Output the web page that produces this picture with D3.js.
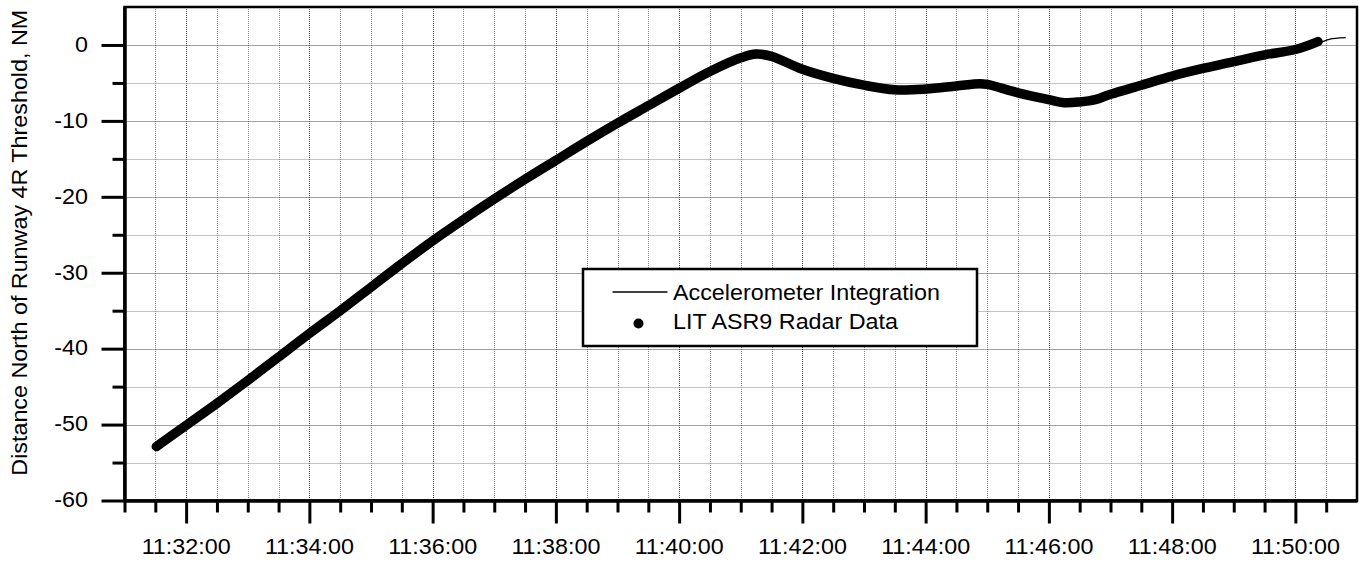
<!DOCTYPE html>
<html>
<head>
<meta charset="utf-8">
<script src="https://cdn.jsdelivr.net/npm/d3@7"></script>
<style>
  html, body { margin: 0; padding: 0; background: #fff; }
  svg { display: block; font-family: "Liberation Sans", Arial, sans-serif; }
</style>
</head>
<body>
<svg id="chart" width="1360" height="565"></svg>
<script>
// Time window and distance range of the plot
const timeStart = "11:31:00";
const timeEnd = "11:51:00";
const distMin = -60;
const distMax = 5;

// LIT ASR9 radar returns: time of day and distance north of the 4R threshold (NM)
const radarTimes = [
  "11:31:31", "11:32:00", "11:32:30", "11:33:00", "11:33:30", "11:34:00", "11:34:30",
  "11:35:00", "11:35:30", "11:36:00", "11:36:30", "11:37:00", "11:37:30", "11:38:00",
  "11:38:30", "11:39:00", "11:39:30", "11:40:00", "11:40:30", "11:41:00", "11:41:15",
  "11:41:30", "11:42:00", "11:42:30", "11:43:00", "11:43:30", "11:44:00", "11:44:30",
  "11:44:53", "11:45:00", "11:45:30", "11:46:00", "11:46:15", "11:46:30", "11:46:45",
  "11:47:00", "11:47:30", "11:48:00", "11:48:30", "11:49:00", "11:49:30", "11:50:00",
  "11:50:22"
];
const radarValues = [
  -52.9, -50.1, -47.2, -44.2, -41.1, -38.0, -35.0,
  -31.9, -28.8, -25.8, -23.0, -20.3, -17.7, -15.2,
  -12.7, -10.3, -8.0, -5.7, -3.5, -1.7, -1.2,
  -1.5, -3.2, -4.4, -5.3, -5.9, -5.8, -5.4,
  -5.1, -5.2, -6.3, -7.2, -7.6, -7.5, -7.2,
  -6.5, -5.3, -4.1, -3.1, -2.2, -1.3, -0.6,
  0.45
];

// Position from integrating the flight-recorder accelerations
const accelTimes = [
  "11:31:31", "11:32:30", "11:33:30", "11:34:30", "11:35:30", "11:36:30", "11:37:30",
  "11:38:30", "11:39:30", "11:40:30", "11:41:15", "11:42:00", "11:43:00", "11:44:00",
  "11:44:53", "11:45:30", "11:46:15", "11:47:00", "11:48:00", "11:49:00", "11:50:00",
  "11:50:25", "11:50:33", "11:50:49"
];
const accelValues = [
  -52.9, -47.2, -41.1, -35.0, -28.8, -23.0, -17.7,
  -12.7, -8.0, -3.5, -1.2, -3.2, -5.3, -5.8,
  -5.1, -6.3, -7.6, -6.5, -4.1, -2.2, -0.6,
  0.35, 0.75, 0.96
];

// Axis labelling
const xMajorTicks = [
  "11:32:00", "11:34:00", "11:36:00", "11:38:00", "11:40:00",
  "11:42:00", "11:44:00", "11:46:00", "11:48:00", "11:50:00"
];
const yMajorTicks = [0, -10, -20, -30, -40, -50, -60];
const yMinorTicks = [-5, -15, -25, -35, -45, -55];
const yTitle = "Distance North of Runway 4R Threshold, NM";
const legendLabels = ["Accelerometer Integration", "LIT ASR9 Radar Data"];

// ---------------------------------------------------------------------------
const parseT = d3.utcParse("%H:%M:%S");
const fmtT = d3.utcFormat("%H:%M:%S");
const FONT = 22;
const STRETCH = 1.06;   // slightly wide lettering

const frame = { left: 124.5, right: 1357, top: 7, bottom: 500.5 };

const x = d3.scaleUtc()
  .domain([parseT(timeStart), parseT(timeEnd)])
  .range([frame.left, frame.right]);
const y = d3.scaleLinear()
  .domain([distMin, distMax])
  .range([frame.bottom, frame.top]);

const svg = d3.select("#chart");

const majorDates = xMajorTicks.map(parseT);
const halfMinutes = d3.utcSecond.every(30).range(parseT(timeStart), parseT(timeEnd));
const isMajor = d => majorDates.some(m => +m === +d);
const minorDates = halfMinutes.filter(d => !isMajor(d));

// --- grid -------------------------------------------------------------------
const grid = svg.append("g").attr("class", "grid");
grid.selectAll("line.vgrid")
  .data(halfMinutes.filter(d => +d !== +x.domain()[0]))
  .join("line")
  .attr("x1", d => Math.round(x(d)) + 0.5).attr("x2", d => Math.round(x(d)) + 0.5)
  .attr("y1", frame.top).attr("y2", frame.bottom)
  .attr("stroke", d => isMajor(d) ? "#444" : "#888")
  .attr("stroke-width", 1)
  .attr("stroke-dasharray", "1,1");

grid.selectAll("line.hgrid")
  .data(yMajorTicks.concat(yMinorTicks).filter(v => v > distMin))
  .join("line")
  .attr("x1", frame.left).attr("x2", frame.right)
  .attr("y1", d => Math.round(y(d)) + 0.5).attr("y2", d => Math.round(y(d)) + 0.5)
  .attr("stroke", d => d % 10 === 0 ? "#444" : "#888")
  .attr("stroke-width", 1)
  .attr("stroke-dasharray", "1,1");

// --- data -------------------------------------------------------------------
const radar = radarTimes.map((t, i) => ({ t: parseT(t), v: radarValues[i] }));
const accel = accelTimes.map((t, i) => ({ t: parseT(t), v: accelValues[i] }));

const line = d3.line()
  .x(d => x(d.t))
  .y(d => y(d.v))
  .curve(d3.curveCatmullRom.alpha(0.5));

svg.append("path")
  .datum(accel)
  .attr("d", line)
  .attr("fill", "none")
  .attr("stroke", "#000")
  .attr("stroke-width", 1.3);

// radar returns are dense enough to merge into one heavy band
svg.append("path")
  .datum(radar)
  .attr("d", line)
  .attr("fill", "none")
  .attr("stroke", "#000")
  .attr("stroke-width", 9.5)
  .attr("stroke-linecap", "round")
  .attr("stroke-linejoin", "round");

// --- frame and axes ---------------------------------------------------------
svg.append("rect")
  .attr("x", frame.left).attr("y", frame.top)
  .attr("width", frame.right - frame.left).attr("height", frame.bottom - frame.top)
  .attr("fill", "none").attr("stroke", "#000").attr("stroke-width", 2.5);

const xAxisMajor = svg.append("g")
  .attr("transform", `translate(0,${frame.bottom})`)
  .call(d3.axisBottom(x).tickValues(majorDates).tickSize(23).tickSizeOuter(0).tickFormat(""));
const xAxisMinor = svg.append("g")
  .attr("transform", `translate(0,${frame.bottom})`)
  .call(d3.axisBottom(x).tickValues(minorDates).tickSize(12).tickSizeOuter(0).tickFormat(""));
const yAxisMajor = svg.append("g")
  .attr("transform", `translate(${frame.left},0)`)
  .call(d3.axisLeft(y).tickValues(yMajorTicks).tickSize(23).tickSizeOuter(0).tickFormat(""));
const yAxisMinor = svg.append("g")
  .attr("transform", `translate(${frame.left},0)`)
  .call(d3.axisLeft(y).tickValues(yMinorTicks).tickSize(12).tickSizeOuter(0).tickFormat(""));

[xAxisMajor, xAxisMinor, yAxisMajor, yAxisMinor].forEach(g => {
  g.select(".domain").attr("stroke", "#000").attr("stroke-width", 3);
  g.selectAll(".tick line").attr("stroke", "#000").attr("stroke-width", 3);
});

// tick labels
svg.append("g").selectAll("g")
  .data(majorDates)
  .join("g")
  .attr("transform", d => `translate(${x(d)},554) scale(${STRETCH},1)`)
  .append("text")
  .attr("text-anchor", "middle")
  .attr("font-size", FONT)
  .attr("fill", "#000")
  .text(d => fmtT(d));

svg.append("g").selectAll("g")
  .data(yMajorTicks)
  .join("g")
  .attr("transform", d => `translate(88,${y(d) + 6.8}) scale(${STRETCH},1)`)
  .append("text")
  .attr("text-anchor", "end")
  .attr("font-size", FONT)
  .attr("fill", "#000")
  .text(d => String(d));

// axis title
svg.append("g")
  .attr("transform", `translate(27,${(frame.top + frame.bottom) / 2 - 11}) rotate(-90) scale(${STRETCH},1)`)
  .append("text")
  .attr("text-anchor", "middle")
  .attr("font-size", FONT)
  .attr("fill", "#000")
  .text(yTitle);

// --- legend -----------------------------------------------------------------
const legend = svg.append("g").attr("transform", "translate(583,269)");
legend.append("rect")
  .attr("width", 394).attr("height", 77)
  .attr("fill", "#fff").attr("stroke", "#000").attr("stroke-width", 2.5);
legend.append("line")
  .attr("x1", 29.5).attr("x2", 84.5).attr("y1", 23).attr("y2", 23)
  .attr("stroke", "#000").attr("stroke-width", 1.5);
legend.append("circle")
  .attr("cx", 55.5).attr("cy", 54.5).attr("r", 5).attr("fill", "#000");
legend.selectAll("g.entry")
  .data(legendLabels)
  .join("g")
  .attr("class", "entry")
  .attr("transform", (d, i) => `translate(90,${30.5 + i * 29.5}) scale(${STRETCH},1)`)
  .append("text")
  .attr("font-size", FONT)
  .attr("fill", "#000")
  .text(d => d);
</script>
</body>
</html>
